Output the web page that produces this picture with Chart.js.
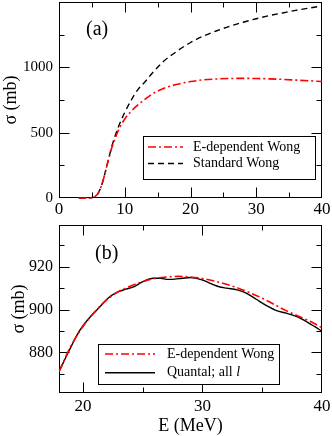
<!DOCTYPE html>
<html>
<head>
<meta charset="utf-8">
<script src="https://cdn.jsdelivr.net/npm/chart.js@4"></script>
<style>
  html, body { margin: 0; padding: 0; background: #fff; }
  #wrap { position: relative; width: 332px; height: 436px; }
  canvas { position: absolute; left: 0; }
</style>
</head>
<body>
<div id="wrap">
  <canvas id="chartA" width="332" height="218" style="top:0"></canvas>
  <canvas id="chartB" width="332" height="218" style="top:218px"></canvas>
</div>
<script>
// panel (a)
const energyA = [3, 4, 5, 5.5, 6, 6.5, 7, 7.5, 8, 8.5, 9, 9.5, 10, 11, 12, 13, 14, 15, 16, 18, 20, 22, 24, 26, 28, 30, 32, 34, 36, 38, 40];
const edepWongA = [0, 0, 3, 12, 40, 100, 190, 290, 380, 450, 515, 565, 605, 665, 712, 752, 790, 818, 840, 871, 891, 904.5, 911, 914.5, 915.5, 914.5, 911.8, 907.8, 902.4, 897, 891.5];
const stdWongA = [0, 0, 3, 12, 40, 100, 190, 290, 390, 470, 540, 600, 655, 750, 830, 885, 945, 1000, 1050, 1125, 1190, 1240, 1280, 1315, 1345, 1372, 1396, 1416, 1436, 1453, 1470];
const xTicksA = [0, 10, 20, 30, 40];
const yTicksA = [0, 500, 1000];

// panel (b)
const energyEdepB = [18, 19, 20, 21, 22, 23, 24, 25, 26, 27, 28, 29, 30, 31, 32, 33, 34, 35, 36, 37, 38, 39, 40];
const edepWongB = [871, 883, 892, 899, 904.5, 908.5, 911, 913, 914.5, 915.2, 915.5, 915.2, 914.5, 913.3, 911.8, 910, 907.8, 905.3, 902.4, 899.5, 897, 894.5, 891.5];
const energyQuantalB = [18, 18.75, 19.6, 20.4, 21.3, 22.1, 22.8, 23.6, 24.3, 25, 25.9, 26.5, 27.1, 27.7, 28.3, 29, 30, 31.2, 32, 32.9, 33.7, 34.5, 35.4, 36.2, 37, 37.9, 38.7, 39.4, 40];
const quantalB = [871, 879.7, 889, 895.2, 900.6, 905.3, 907.9, 909.5, 910.7, 913, 914.6, 914.6, 914.1, 914.2, 914.6, 915, 913.8, 911, 910, 909.2, 907.6, 904.8, 901.7, 899.5, 898.3, 896.7, 894.4, 892, 889.8];
const xTicksB = [20, 30, 40];
const yTicksB = [880, 900, 920];

const SERIF = '"Liberation Serif", serif';
Chart.defaults.font.family = SERIF;
Chart.defaults.color = '#000';

const pts = (xs, ys) => xs.map((x, i) => ({x: x, y: ys[i]}));

// box + inward ticks under the curves, tag and legend on top
const framePlugin = {
    id: 'frame',
    beforeDatasetsDraw(chart, args, opts) {
        const {ctx, chartArea: a, scales: {x, y}} = chart;
        const L = Math.round(a.left) + 0.5, R = Math.round(a.right) - 0.5;
        const T = Math.round(a.top) + 0.5, B = Math.round(a.bottom) - 0.5;
        ctx.save();
        ctx.strokeStyle = '#000';
        ctx.lineWidth = 1;
        ctx.strokeRect(L, T, R - L, B - T);

        const line = (x1, y1, x2, y2) => { ctx.beginPath(); ctx.moveTo(x1, y1); ctx.lineTo(x2, y2); ctx.stroke(); };
        const isMajor = (v, step) => Math.abs(v / step - Math.round(v / step)) < 1e-6;
        for (let v = Math.ceil(x.min / opts.xMinor) * opts.xMinor; v < x.max - 1e-6; v += opts.xMinor) {
            if (v <= x.min) continue;
            const p = Math.round(x.getPixelForValue(v)) + 0.5;
            const len = isMajor(v, opts.xMajor) ? 10 : 5;
            line(p, B, p, B - len);
            line(p, T, p, T + len);
        }
        for (let v = Math.ceil(y.min / opts.yMinor) * opts.yMinor; v < y.max - 1e-6; v += opts.yMinor) {
            if (v <= y.min) continue;
            const p = Math.round(y.getPixelForValue(v)) + 0.5;
            const len = isMajor(v, opts.yMajor) ? 10 : 5;
            line(L, p, L + len, p);
            line(R, p, R - len, p);
        }
        ctx.restore();
    },
    afterDraw(chart, args, opts) {
        const ctx = chart.ctx;
        const line = (x1, y1, x2, y2) => { ctx.beginPath(); ctx.moveTo(x1, y1); ctx.lineTo(x2, y2); ctx.stroke(); };
        ctx.save();
        // panel tag
        ctx.font = '20px ' + SERIF;
        ctx.fillStyle = '#000';
        ctx.textBaseline = 'middle';
        ctx.textAlign = 'left';
        ctx.fillText(opts.tag, opts.tagX, opts.tagY);

        // legend
        const lg = opts.legend;
        ctx.fillStyle = '#fff';
        ctx.fillRect(lg.x, lg.y, lg.w, lg.h);
        ctx.strokeStyle = '#000';
        ctx.lineWidth = 1;
        ctx.strokeRect(lg.x + 0.5, lg.y + 0.5, lg.w, lg.h);
        chart.data.datasets.forEach((ds, i) => {
            const ry = lg.rows[i];
            ctx.save();
            ctx.strokeStyle = ds.borderColor;
            ctx.lineWidth = ds.borderWidth;
            ctx.setLineDash(ds.borderDash || []);
            line(lg.x1, ry, lg.x2, ry);
            ctx.restore();
            ctx.fillStyle = '#000';
            ctx.font = '14px ' + SERIF;
            let label = ds.label;
            let tail = '';
            if (ds.italicTail) {
                tail = label.slice(label.lastIndexOf(' ') + 1);
                label = label.slice(0, label.lastIndexOf(' ') + 1);
            }
            ctx.fillText(label, lg.tx, ry);
            if (tail) {
                const w = ctx.measureText(label).width;
                ctx.font = 'italic 14px ' + SERIF;
                ctx.fillText(tail, lg.tx + w, ry);
            }
        });
        ctx.restore();
    }
};

function fixY(width) {
    return s => { s.width = width; s.paddingTop = 0; s.paddingBottom = 0; };
}
function fixX(height) {
    return s => { s.height = height; s.paddingLeft = 0; s.paddingRight = 0; };
}
const plain = v => String(v);

// Panel (a)
const chartA = new Chart(document.getElementById('chartA'), {
    type: 'line',
    data: {
        datasets: [{
            label: 'E-dependent Wong',
            data: pts(energyA, edepWongA),
            borderColor: '#ff0000',
            borderWidth: 1.6,
            borderDash: [8, 3, 2, 3]
        }, {
            label: 'Standard Wong',
            data: pts(energyA, stdWongA),
            borderColor: '#000000',
            borderWidth: 1.4,
            borderDash: [6, 4]
        }]
    },
    options: {
        responsive: false,
        animation: false,
        devicePixelRatio: 1,
        layout: { padding: { top: 2, right: 10, left: 0, bottom: 0 } },
        elements: { point: { radius: 0 }, line: { cubicInterpolationMode: 'monotone' } },
        datasets: { line: { clip: 3 } },
        scales: {
            x: {
                type: 'linear', min: 0, max: 40,
                grid: { display: false, drawTicks: false },
                border: { display: false },
                afterBuildTicks: s => { s.ticks = xTicksA.map(v => ({value: v})); },
                afterFit: fixX(20),
                ticks: { padding: 1, maxRotation: 0, font: { size: 17 }, callback: plain }
            },
            y: {
                type: 'linear', min: 0, max: 1500,
                grid: { display: false, drawTicks: false },
                border: { display: false },
                afterBuildTicks: s => { s.ticks = yTicksA.map(v => ({value: v})); },
                afterFit: fixY(59),
                ticks: { padding: 6, font: { size: 15 }, callback: plain },
                title: { display: true, text: 'σ (mb)', font: { size: 18, lineHeight: 1.2 }, padding: { top: 0, bottom: 0 } }
            }
        },
        plugins: {
            legend: { display: false },
            tooltip: { enabled: false },
            frame: {
                xMajor: 10, xMinor: 5, yMajor: 500, yMinor: 250,
                tag: '(a)', tagX: 86, tagY: 30,
                legend: { x: 143, y: 136, w: 172, h: 43, x1: 148, x2: 183, tx: 193, rows: [147, 163.5] }
            }
        }
    },
    plugins: [framePlugin]
});

// Panel (b)
const chartB = new Chart(document.getElementById('chartB'), {
    type: 'line',
    data: {
        datasets: [{
            label: 'E-dependent Wong',
            data: pts(energyEdepB, edepWongB),
            borderColor: '#ff0000',
            borderWidth: 1.6,
            borderDash: [8, 3, 2, 3]
        }, {
            label: 'Quantal; all l',
            italicTail: true,
            data: pts(energyQuantalB, quantalB),
            borderColor: '#000000',
            borderWidth: 1.4
        }]
    },
    options: {
        responsive: false,
        animation: false,
        devicePixelRatio: 1,
        layout: { padding: { top: 7, right: 10, left: 0, bottom: 0 } },
        elements: { point: { radius: 0 }, line: { cubicInterpolationMode: 'monotone' } },
        scales: {
            x: {
                type: 'linear', min: 18, max: 40,
                grid: { display: false, drawTicks: false },
                border: { display: false },
                afterBuildTicks: s => { s.ticks = xTicksB.map(v => ({value: v})); },
                afterFit: fixX(43),
                ticks: { padding: 3, maxRotation: 0, font: { size: 17 }, callback: plain },
                title: { display: true, text: 'E (MeV)', font: { size: 18, lineHeight: 1.1 }, padding: { top: 0, bottom: 0 } }
            },
            y: {
                type: 'linear', min: 861, max: 939.5,
                grid: { display: false, drawTicks: false },
                border: { display: false },
                afterBuildTicks: s => { s.ticks = yTicksB.map(v => ({value: v})); },
                afterFit: fixY(59),
                ticks: { padding: 6, font: { size: 16 }, callback: plain },
                title: { display: true, text: 'σ (mb)', font: { size: 18, lineHeight: 1.2 }, padding: { top: 8, bottom: 0 } }
            }
        },
        plugins: {
            legend: { display: false },
            tooltip: { enabled: false },
            frame: {
                xMajor: 10, xMinor: 5, yMajor: 20, yMinor: 10,
                tag: '(b)', tagX: 95, tagY: 36,
                legend: { x: 98, y: 126, w: 181, h: 40, x1: 105, x2: 155, tx: 167, rows: [136, 154.7] }
            }
        }
    },
    plugins: [framePlugin]
});
</script>
</body>
</html>
